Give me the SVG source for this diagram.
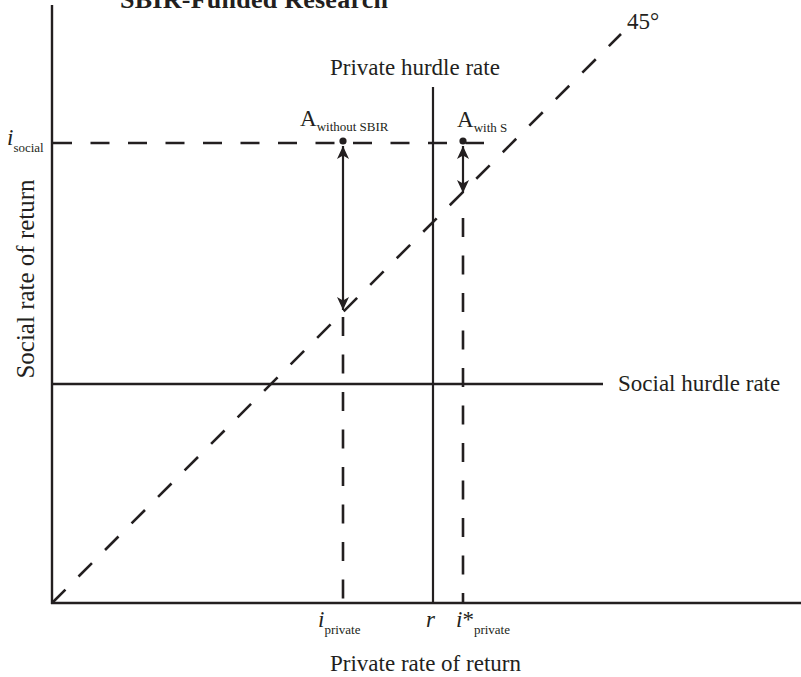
<svg xmlns="http://www.w3.org/2000/svg" width="801" height="677" viewBox="0 0 801 677">
<style>
text{font-family:"Liberation Serif","Times New Roman",serif;fill:#231f20}
.lbl{font-size:23px}
.sub{font-size:13px}
.it{font-style:italic}
.solid{stroke:#231f20;fill:none;stroke-width:2.4}
.dash{stroke:#231f20;fill:none;stroke-width:2.6;stroke-dasharray:19 18.5}
.arr{stroke:#231f20;fill:none;stroke-width:2.2}
</style>
<defs>
<marker id="ah" markerUnits="userSpaceOnUse" markerWidth="16" markerHeight="16" viewBox="-14 -8 16 16" refX="0" refY="0" orient="auto-start-reverse">
<path d="M0,0 L-13,-6 L-9.5,0 L-13,6 z" fill="#231f20"/>
</marker>
</defs>
<rect width="801" height="677" fill="#fff"/>
<text x="120" y="8" style="font-weight:bold;font-size:26px" textLength="268">SBIR-Funded Research</text>
<g id="connectors">
<line class="solid" x1="52" y1="5" x2="52" y2="604"/>
<line class="solid" x1="51" y1="603" x2="801" y2="603"/>
<line class="solid" x1="52" y1="384" x2="603" y2="384"/>
<line class="solid" x1="433" y1="87" x2="433" y2="603" style="stroke-width:2.2"/>
<line class="dash" x1="53" y1="143" x2="484" y2="143"/>
<line class="dash" x1="52" y1="603" x2="621" y2="34"/>
<line class="dash" x1="343" y1="317" x2="343" y2="603"/>
<line class="dash" x1="463" y1="218" x2="463" y2="603"/>
<line class="arr" x1="343" y1="146" x2="343" y2="310" marker-start="url(#ah)" marker-end="url(#ah)"/>
<line class="arr" x1="463" y1="146" x2="463" y2="193" marker-start="url(#ah)" marker-end="url(#ah)"/>
</g>
<g id="pointA_without">
<circle cx="343" cy="141" r="3.6" fill="#231f20"/>
<text class="lbl" x="300" y="126">A<tspan class="sub" dy="5">without SBIR</tspan></text>
</g>
<g id="pointA_with">
<circle cx="463" cy="141" r="3.6" fill="#231f20"/>
<text class="lbl" x="457" y="127">A<tspan class="sub" dy="5">with S</tspan></text>
</g>
<g id="labels">
<text class="lbl" x="330" y="75">Private hurdle rate</text>
<text class="lbl" x="618" y="391">Social hurdle rate</text>
<text class="lbl" x="627" y="29">45°</text>
<text class="lbl" x="7" y="145"><tspan class="it">i</tspan><tspan class="sub" dy="7">social</tspan></text>
<text class="lbl" x="318" y="627"><tspan class="it">i</tspan><tspan class="sub" dy="7">private</tspan></text>
<text class="lbl" x="426" y="627" font-style="italic">r</text>
<text class="lbl" x="456" y="627"><tspan class="it">i</tspan>*<tspan class="sub" dy="7">private</tspan></text>
<text class="lbl" x="330" y="671">Private rate of return</text>
<text transform="translate(34,279) rotate(-90)" text-anchor="middle" style="font-size:25px">Social rate of return</text>
</g>
</svg>
